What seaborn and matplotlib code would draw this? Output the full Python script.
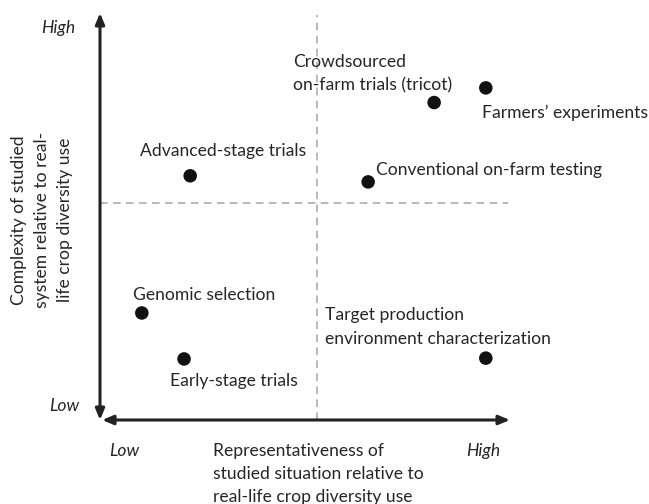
import matplotlib
matplotlib.use("Agg")
import matplotlib.pyplot as plt
import seaborn as sns
import pandas as pd

# --- Datos (escala 0-10 en ambos ejes) ---
nombres = ["Advanced-stage trials", "Crowdsourced\non-farm trials (tricot)",
           "Farmers\u2019 experiments", "Conventional on-farm testing",
           "Genomic selection", "Early-stage trials",
           "Target production\nenvironment characterization"]
representatividad = [2.2, 8.15, 9.41, 6.54, 1.02, 2.05, 9.41]
complejidad = [6.0, 7.8, 8.16, 5.85, 2.63, 1.5, 1.52]
corte_x = 5.29
corte_y = 5.33

# desplazamiento de cada etiqueta respecto a su punto (pixeles)
offsets = [(-50, 25), (-141, 29), (-4, -25), (8, 12), (-9, 18), (-14, -22), (-161, 31)]

df = pd.DataFrame({"x": representatividad, "y": complejidad, "nombre": nombres})

sns.set_style("white")
plt.rcParams["font.family"] = ["Lato", "DejaVu Sans"]
color_txt = "#262626"
fs = 12.6
ls_txt = 1.56

fig = plt.figure(figsize=(6.49, 5.04), dpi=100)
ax = fig.add_axes([100 / 649, 84 / 504, 410 / 649, 407 / 504])
ax.set_xlim(0, 10)
ax.set_ylim(0, 10)
ax.axis("off")

# lineas punteadas de cuadrantes
ax.plot([corte_x, corte_x], [0, 9.95], ls=(0, (5, 3.5)), color="#a6a6a6", lw=1.1, zorder=1)
ax.plot([0, 9.95], [corte_y, corte_y], ls=(0, (5, 3.5)), color="#a6a6a6", lw=1.1, zorder=1)

# ejes con flechas
flecha = dict(arrowstyle="<|-|>,head_length=0.65,head_width=0.27", color="#222222", lw=2.2,
              shrinkA=0, shrinkB=0)
ax.annotate("", xy=(0, 10), xytext=(0, 0), arrowprops=flecha, annotation_clip=False)
ax.annotate("", xy=(10, 0), xytext=(0.05, 0), arrowprops=flecha, annotation_clip=False)

# puntos
sns.scatterplot(data=df, x="x", y="y", ax=ax, color="#111111", s=95, edgecolor="none",
                zorder=3, clip_on=False)

for (_, fila), (dx, dy) in zip(df.iterrows(), offsets):
    ax.annotate(fila["nombre"], (fila["x"], fila["y"]), xytext=(dx, dy),
                textcoords="offset pixels", ha="left", va="center", fontsize=fs,
                color=color_txt, linespacing=ls_txt, annotation_clip=False)

# etiquetas de ejes
ax.text(-0.6, 9.63, "High", ha="right", va="center", style="italic", fontsize=fs,
        color=color_txt, clip_on=False)
ax.text(-0.5, 0.34, "Low", ha="right", va="center", style="italic", fontsize=fs,
        color=color_txt, clip_on=False)
ax.text(0.22, -0.76, "Low", ha="left", va="center", style="italic", fontsize=fs,
        color=color_txt, clip_on=False)
ax.text(9.34, -0.76, "High", ha="center", va="center", style="italic", fontsize=fs,
        color=color_txt, clip_on=False)
ax.text(2.75, -1.33, "Representativeness of\nstudied situation relative to\nreal-life crop diversity use",
        ha="left", va="center", fontsize=fs, color=color_txt, linespacing=ls_txt, clip_on=False)
ax.text(-1.41, 4.91, "Complexity of studied\nsystem relative to real-\nlife crop diversity use",
        ha="center", va="center", rotation=90, fontsize=fs, color=color_txt,
        linespacing=ls_txt, multialignment="center", clip_on=False)

fig.savefig("out.png", dpi=100)
